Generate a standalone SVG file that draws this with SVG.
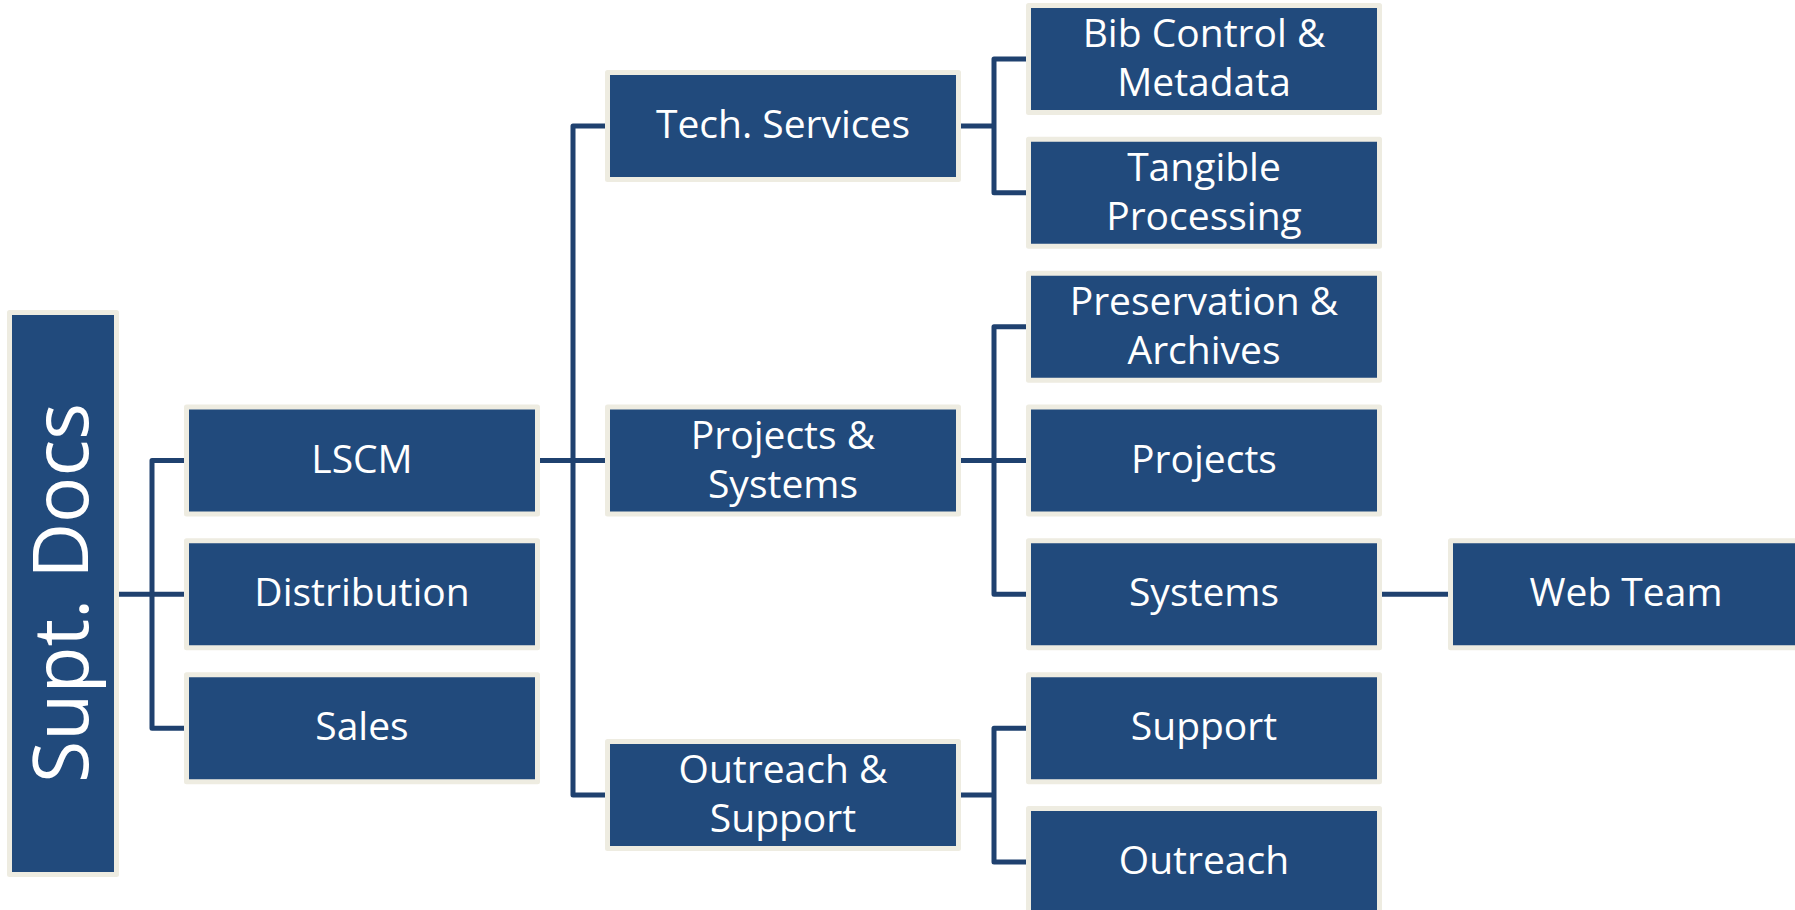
<svg xmlns="http://www.w3.org/2000/svg" width="1795" height="910" viewBox="0 0 1795 910">
  <style>
    .box { fill: #214A7C; stroke: #EEECE1; stroke-width: 5; stroke-linejoin: round; }
    .lbl { fill: #FFFFFF; font-family: "Open Sans", "Noto Sans", "DejaVu Sans", sans-serif; font-size: 39px; text-anchor: middle; }
    .big { font-size: 77px; }
    .wire { fill: none; stroke: #1F416F; stroke-width: 5; stroke-linejoin: round; stroke-linecap: butt; }
  </style>
  <rect width="1795" height="910" fill="#FFFFFF"/>

  <!-- connectors -->
  <g id="connectors" class="wire">
    <!-- root to first level -->
    <path d="M119 594.3 H184"/>
    <path d="M184 460.5 H152 V728.2 H184"/>
    <!-- LSCM to its departments -->
    <path d="M540 460.5 H605"/>
    <path d="M605 126 H573 V795 H605"/>
    <!-- Tech. Services -->
    <path d="M961 126 H994"/>
    <path d="M1026 59 H994 V192.8 H1026"/>
    <!-- Projects & Systems -->
    <path d="M961 460.5 H1026"/>
    <path d="M1026 326.7 H994 V594.3 H1026"/>
    <!-- Systems to Web Team -->
    <path d="M1382 594.3 H1448"/>
    <!-- Outreach & Support -->
    <path d="M961 795 H994"/>
    <path d="M1026 728.2 H994 V862 H1026"/>
  </g>

  <!-- root -->
  <g id="supt-docs">
    <rect class="box" x="9.5" y="312.5" width="107" height="562"/>
    <text class="lbl big" transform="translate(88 593) rotate(-90)">Supt. Docs</text>
  </g>

  <!-- first level -->
  <g id="lscm">
    <rect class="box" x="186.5" y="407" width="351" height="107"/>
    <text class="lbl" x="362" y="472.5">LSCM</text>
  </g>
  <g id="distribution">
    <rect class="box" x="186.5" y="540.8" width="351" height="107"/>
    <text class="lbl" x="362" y="606.3">Distribution</text>
  </g>
  <g id="sales">
    <rect class="box" x="186.5" y="674.7" width="351" height="107"/>
    <text class="lbl" x="362" y="740.2">Sales</text>
  </g>

  <!-- second level -->
  <g id="tech-services">
    <rect class="box" x="607.5" y="72.5" width="351" height="107"/>
    <text class="lbl" x="783" y="138">Tech. Services</text>
  </g>
  <g id="projects-systems">
    <rect class="box" x="607.5" y="407" width="351" height="107"/>
    <text class="lbl" x="783" y="448.5">Projects &amp;</text>
    <text class="lbl" x="783" y="497.5">Systems</text>
  </g>
  <g id="outreach-support">
    <rect class="box" x="607.5" y="741.5" width="351" height="107"/>
    <text class="lbl" x="783" y="783">Outreach &amp;</text>
    <text class="lbl" x="783" y="832">Support</text>
  </g>

  <!-- third level -->
  <g id="bib-control">
    <rect class="box" x="1028.5" y="5.5" width="351" height="107"/>
    <text class="lbl" x="1204" y="47">Bib Control &amp;</text>
    <text class="lbl" x="1204" y="96">Metadata</text>
  </g>
  <g id="tangible-processing">
    <rect class="box" x="1028.5" y="139.3" width="351" height="107"/>
    <text class="lbl" x="1204" y="180.8">Tangible</text>
    <text class="lbl" x="1204" y="229.8">Processing</text>
  </g>
  <g id="preservation-archives">
    <rect class="box" x="1028.5" y="273.2" width="351" height="107"/>
    <text class="lbl" x="1204" y="314.7">Preservation &amp;</text>
    <text class="lbl" x="1204" y="363.7">Archives</text>
  </g>
  <g id="projects">
    <rect class="box" x="1028.5" y="407" width="351" height="107"/>
    <text class="lbl" x="1204" y="472.5">Projects</text>
  </g>
  <g id="systems">
    <rect class="box" x="1028.5" y="540.8" width="351" height="107"/>
    <text class="lbl" x="1204" y="606.3">Systems</text>
  </g>
  <g id="support">
    <rect class="box" x="1028.5" y="674.7" width="351" height="107"/>
    <text class="lbl" x="1204" y="740.2">Support</text>
  </g>
  <g id="outreach">
    <rect class="box" x="1028.5" y="808.5" width="351" height="107"/>
    <text class="lbl" x="1204" y="874">Outreach</text>
  </g>

  <!-- fourth level -->
  <g id="web-team">
    <rect class="box" x="1450.5" y="540.8" width="351" height="107"/>
    <text class="lbl" x="1626" y="606.3">Web Team</text>
  </g>
</svg>
